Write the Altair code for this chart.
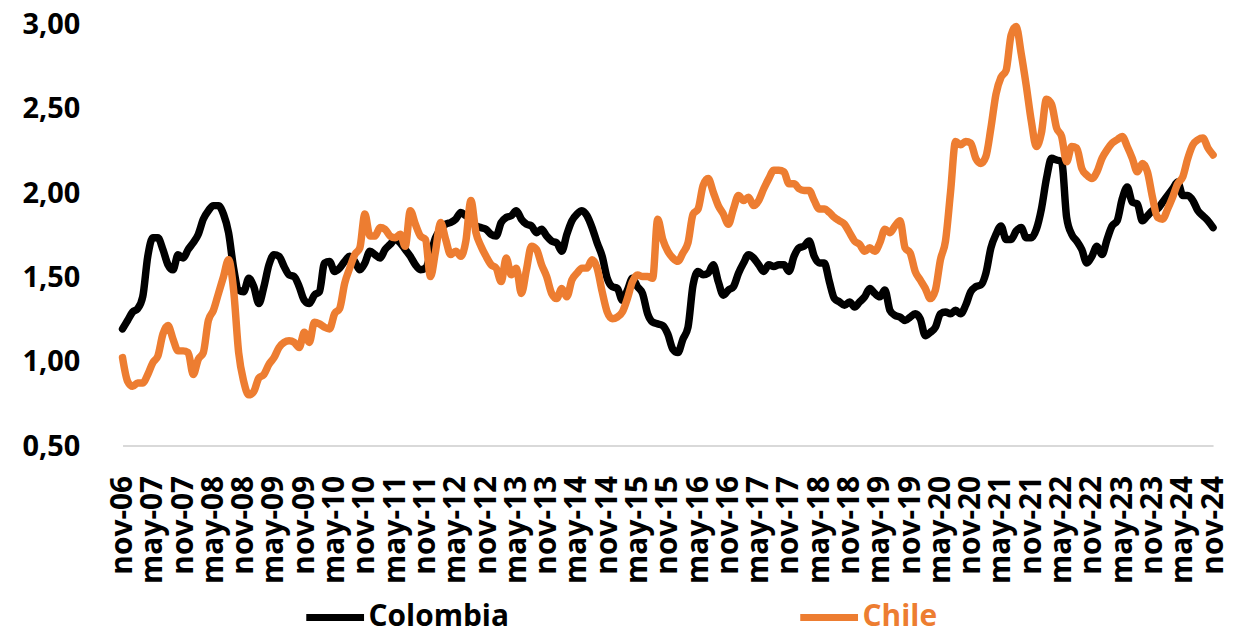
import altair as alt
import pandas as pd

# Monthly series, nov-06 ... nov-24 (217 months)
colombia = [
    1.19, 1.24, 1.29, 1.31, 1.38, 1.62, 1.73, 1.73, 1.66, 1.57,
    1.54, 1.63, 1.61, 1.66, 1.70, 1.75, 1.84, 1.89, 1.92, 1.92,
    1.87, 1.76, 1.55, 1.42, 1.41, 1.49, 1.44, 1.34, 1.44, 1.57,
    1.63, 1.62, 1.56, 1.51, 1.50, 1.44, 1.36, 1.34, 1.39, 1.41,
    1.58, 1.59, 1.53, 1.55, 1.59, 1.62, 1.59, 1.54, 1.58, 1.65,
    1.63, 1.61, 1.66, 1.69, 1.72, 1.70, 1.66, 1.62, 1.57, 1.54,
    1.55, 1.63, 1.73, 1.78, 1.81, 1.82, 1.84, 1.88, 1.86, 1.84,
    1.80, 1.79, 1.78, 1.75, 1.74, 1.82, 1.85, 1.86, 1.89, 1.84,
    1.81, 1.80, 1.76, 1.78, 1.74, 1.71, 1.70, 1.65, 1.75, 1.83,
    1.87, 1.89, 1.86, 1.79, 1.70, 1.62, 1.49, 1.44, 1.43, 1.36,
    1.42, 1.49, 1.44, 1.40, 1.28, 1.23, 1.22, 1.21, 1.16, 1.07,
    1.05, 1.13, 1.20, 1.45, 1.53, 1.51, 1.52, 1.57, 1.47, 1.39,
    1.42, 1.44, 1.52, 1.58, 1.63, 1.61, 1.57, 1.53, 1.57, 1.56,
    1.57, 1.57, 1.53, 1.62, 1.67, 1.68, 1.71, 1.62, 1.58, 1.58,
    1.47, 1.37, 1.35, 1.33, 1.35, 1.32, 1.35, 1.38, 1.43, 1.40,
    1.38, 1.42, 1.30, 1.27, 1.26, 1.24, 1.26, 1.28, 1.25, 1.15,
    1.17, 1.20, 1.28, 1.29, 1.28, 1.30, 1.28, 1.33, 1.41, 1.44,
    1.45, 1.52, 1.67, 1.75, 1.80, 1.72, 1.72, 1.77, 1.79, 1.73,
    1.73, 1.78, 1.90, 2.08, 2.20, 2.19, 2.18, 1.85, 1.75, 1.71,
    1.66, 1.58, 1.62, 1.68, 1.63, 1.72, 1.80, 1.83, 1.96, 2.03,
    1.94, 1.93, 1.83, 1.86, 1.89, 1.90, 1.94, 1.98, 2.02, 2.06,
    1.98, 1.98, 1.95, 1.89, 1.86, 1.83, 1.79,
]

chile = [
    1.02, 0.88, 0.85, 0.87, 0.87, 0.92, 0.99, 1.03, 1.16, 1.21,
    1.13, 1.06, 1.06, 1.05, 0.92, 1.01, 1.05, 1.24, 1.30, 1.40,
    1.50, 1.60, 1.42, 1.05, 0.88, 0.80, 0.82, 0.90, 0.92, 0.98,
    1.02, 1.08, 1.11, 1.12, 1.11, 1.08, 1.17, 1.11, 1.23, 1.22,
    1.20, 1.19, 1.28, 1.31, 1.46, 1.55, 1.63, 1.67, 1.87, 1.74,
    1.74, 1.79, 1.78, 1.74, 1.73, 1.75, 1.68, 1.89, 1.81, 1.74,
    1.72, 1.50, 1.65, 1.82, 1.72, 1.63, 1.65, 1.62, 1.71, 1.95,
    1.76, 1.68, 1.62, 1.57, 1.55, 1.47, 1.61, 1.51, 1.55, 1.40,
    1.54, 1.68, 1.66, 1.57, 1.50, 1.40, 1.37, 1.43, 1.38, 1.48,
    1.52, 1.55, 1.55, 1.60, 1.55, 1.41, 1.29, 1.25, 1.26, 1.29,
    1.37, 1.47, 1.51, 1.50, 1.50, 1.49, 1.84, 1.72, 1.65, 1.61,
    1.59, 1.64, 1.70, 1.87, 1.90, 2.04, 2.08, 2.00, 1.92, 1.87,
    1.81, 1.90, 1.98, 1.95, 1.97, 1.92, 1.95, 2.02, 2.08, 2.13,
    2.13, 2.12, 2.05, 2.05, 2.02, 2.01, 2.01, 1.95, 1.90, 1.90,
    1.88, 1.85, 1.83, 1.81, 1.76, 1.71, 1.69, 1.65, 1.67, 1.65,
    1.70, 1.78, 1.76, 1.80, 1.83, 1.67, 1.64, 1.53, 1.48, 1.43,
    1.37, 1.42, 1.60, 1.71, 2.00, 2.30, 2.28, 2.30, 2.29, 2.20,
    2.17, 2.21, 2.38, 2.58, 2.68, 2.72, 2.93, 2.98, 2.82, 2.63,
    2.42, 2.27, 2.35, 2.55, 2.52, 2.38, 2.33, 2.18, 2.27, 2.26,
    2.14, 2.10, 2.08, 2.12, 2.20, 2.25, 2.29, 2.31, 2.33, 2.27,
    2.20, 2.12, 2.17, 2.12, 1.97, 1.85, 1.84, 1.90, 1.97, 2.05,
    2.09, 2.20, 2.28, 2.31, 2.32, 2.26, 2.22,
]

tick_labels = [
    "nov-06", "may-07", "nov-07", "may-08", "nov-08", "may-09", "nov-09",
    "may-10", "nov-10", "may-11", "nov-11", "may-12", "nov-12", "may-13",
    "nov-13", "may-14", "nov-14", "may-15", "nov-15", "may-16", "nov-16",
    "may-17", "nov-17", "may-18", "nov-18", "may-19", "nov-19", "may-20",
    "nov-20", "may-21", "nov-21", "may-22", "nov-22", "may-23", "nov-23",
    "may-24", "nov-24",
]

series_names = ["Colombia", "Chile"]
series_colors = ["#000000", "#ED7D31"]
y_ticks = [0.5, 1.0, 1.5, 2.0, 2.5, 3.0]

rows = []
for i, v in enumerate(colombia):
    rows.append({"i": i, "v": v, "serie": "Colombia"})
for i, v in enumerate(chile):
    rows.append({"i": i, "v": v, "serie": "Chile"})
df = pd.DataFrame(rows)

n = len(colombia) - 1
label_array = "[" + ",".join("'%s'" % t for t in tick_labels) + "]"
FONT = "Open Sans"

base = alt.Chart(df).encode(
    x=alt.X(
        "i:Q",
        scale=alt.Scale(domain=[0, n], nice=False, zero=False),
        axis=alt.Axis(
            values=list(range(0, n + 1, 6)),
            labelExpr=label_array + "[round(datum.value/6)]",
            labelAngle=270,
            labelFont=FONT,
            labelFontSize=30,
            labelFontWeight="bold",
            labelColor="#000000",
            labelPadding=30,
            labelOverlap=False,
            labelFlush=False,
            labelBound=False,
            ticks=False,
            grid=False,
            domainColor="#D9D9D9",
            domainWidth=2,
            title=None,
        ),
    ),
    y=alt.Y(
        "v:Q",
        scale=alt.Scale(domain=[0.5, 3.0], nice=False, zero=False),
        axis=alt.Axis(
            values=y_ticks,
            labelExpr="replace(format(datum.value, '.2f'), '.', ',')",
            labelFont=FONT,
            labelFontSize=29,
            labelFontWeight="bold",
            labelColor="#000000",
            labelPadding=43,
            labelOffset=1,
            labelFlush=False,
            labelOverlap=False,
            domain=False,
            ticks=False,
            grid=False,
            title=None,
        ),
    ),
    color=alt.Color(
        "serie:N",
        scale=alt.Scale(domain=series_names, range=series_colors),
        legend=alt.Legend(
            orient="none",
            legendX=181,
            legendY=564,
            direction="horizontal",
            title=None,
            symbolType="stroke",
            symbolSize=3364,
            symbolStrokeWidth=7,
            labelFont=FONT,
            labelFontSize=30,
            labelFontWeight="bold",
            labelColor={"expr": "datum.label == 'Chile' ? '#ED7D31' : '#000000'"},
            labelOffset=1,
            columnPadding=277,
            padding=0,
        ),
    ),
)

line_col = base.transform_filter("datum.serie == 'Colombia'").mark_line(
    strokeWidth=7.5, strokeJoin="round", strokeCap="round", interpolate="monotone"
)
line_chi = base.transform_filter("datum.serie == 'Chile'").mark_line(
    strokeWidth=7.5, strokeJoin="round", strokeCap="round", interpolate="monotone"
)

chart = (
    alt.layer(line_col, line_chi)
    .properties(
        width=1095,
        height=424,
        padding={"left": 115, "top": 14, "right": 16, "bottom": 182},
        autosize=alt.AutoSizeParams(type="none"),
        background="white",
    )
    .configure_view(stroke=None)
)

chart.save("out.html", embed_options={"renderer": "svg", "actions": False})
